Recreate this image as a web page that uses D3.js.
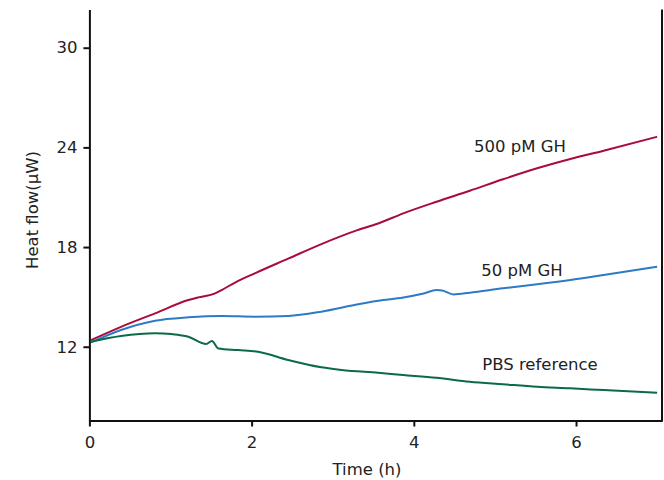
<!DOCTYPE html>
<html>
<head>
<meta charset="utf-8">
<script src="https://cdn.jsdelivr.net/npm/d3@7"></script>
<style>
  body { margin: 0; background: #fff; }
  svg text { font-family: "DejaVu Sans", sans-serif; fill: #222; }
</style>
</head>
<body>
<svg id="chart" width="664" height="480"></svg>
<script>
// time in hours
var redTime = [0.02, 0.39, 0.81, 1.22, 1.34, 1.55, 1.63, 1.79, 2.04, 2.45, 2.86, 3.27, 3.56, 3.87, 4.28, 4.69, 5.10, 5.52, 5.93, 6.34, 7.0];
var redFlow = [12.4, 13.2, 14.01, 14.81, 14.97, 15.21, 15.41, 15.85, 16.42, 17.3, 18.18, 18.96, 19.42, 20.03, 20.73, 21.39, 22.08, 22.74, 23.3, 23.8, 24.64];

var blueTime = [0.02, 0.39, 0.81, 1.22, 1.63, 2.04, 2.45, 2.86, 3.27, 3.56, 3.87, 4.12, 4.28, 4.35, 4.49, 4.69, 5.10, 5.52, 5.93, 6.34, 7.0];
var blueFlow = [12.26, 13.01, 13.57, 13.77, 13.85, 13.81, 13.85, 14.11, 14.51, 14.77, 14.97, 15.21, 15.41, 15.38, 15.15, 15.25, 15.52, 15.76, 16.02, 16.32, 16.82];

var greenTime = [0.02, 0.39, 0.81, 1.01, 1.22, 1.44, 1.51, 1.59, 1.83, 2.08, 2.45, 2.86, 3.11, 3.56, 3.87, 4.28, 4.69, 5.10, 5.52, 5.93, 6.34, 7.0];
var greenFlow = [12.3, 12.64, 12.81, 12.76, 12.6, 12.16, 12.34, 11.9, 11.8, 11.7, 11.2, 10.76, 10.6, 10.43, 10.3, 10.13, 9.89, 9.74, 9.59, 9.5, 9.39, 9.23];

var seriesNames = ["500 pM GH", "50 pM GH", "PBS reference"];
var xTicks = [0, 2, 4, 6];
var yTicks = [12, 18, 24, 30];

var svg = d3.select("#chart");
var plotLeft = 89.4, plotRight = 662, plotTop = 9.5, plotBottom = 420.5;

var x = d3.scaleLinear().domain([0, 7.06]).range([plotLeft, plotRight]);
var y = d3.scaleLinear().domain([7.56, 32.3]).range([plotBottom, plotTop]);

var line = d3.line()
  .x(function(d) { return x(d[0]); })
  .y(function(d) { return y(d[1]); })
  .curve(d3.curveMonotoneX);

function zip(a, b) {
  return a.map(function(v, i) { return [v, b[i]]; });
}

var series = [
  { pts: zip(redTime, redFlow), color: "#a80c3c", label: seriesNames[0], lx: 520, ly: 152 },
  { pts: zip(blueTime, blueFlow), color: "#2c7bc4", label: seriesNames[1], lx: 522, ly: 276 },
  { pts: zip(greenTime, greenFlow), color: "#0b6b45", label: seriesNames[2], lx: 540, ly: 370 }
];

series.forEach(function(s) {
  svg.append("path")
    .attr("d", line(s.pts))
    .attr("fill", "none")
    .attr("stroke", s.color)
    .attr("stroke-width", 2);
  svg.append("text")
    .attr("x", s.lx)
    .attr("y", s.ly)
    .attr("text-anchor", "middle")
    .style("font-size", "16.5px")
    .text(s.label);
});

// axes
var xAxis = svg.append("g")
  .attr("transform", "translate(0," + plotBottom + ")")
  .call(d3.axisBottom(x).tickValues(xTicks).tickFormat(d3.format("d"))
    .tickSize(6).tickSizeOuter(0).tickPadding(10));
var yAxis = svg.append("g")
  .attr("transform", "translate(" + plotLeft + ",0)")
  .call(d3.axisLeft(y).tickValues(yTicks).tickFormat(d3.format("d"))
    .tickSize(6).tickSizeOuter(0).tickPadding(6));

[xAxis, yAxis].forEach(function(g) {
  g.selectAll("path, line").attr("stroke", "#111").attr("stroke-width", 2);
  g.selectAll("text").style("font-size", "16.5px").attr("fill", "#222")
    .style("font-family", "'DejaVu Sans', sans-serif");
});

// right frame line
svg.append("line")
  .attr("x1", plotRight).attr("x2", plotRight)
  .attr("y1", plotTop).attr("y2", plotBottom + 1)
  .attr("stroke", "#111").attr("stroke-width", 2);

svg.append("text")
  .attr("x", 367)
  .attr("y", 475)
  .attr("text-anchor", "middle")
  .style("font-size", "16.5px")
  .text("Time (h)");

svg.append("text")
  .attr("transform", "translate(38,210) rotate(-90)")
  .attr("text-anchor", "middle")
  .style("font-size", "16.5px")
  .text("Heat flow(\u00b5W)");
</script>
</body>
</html>
